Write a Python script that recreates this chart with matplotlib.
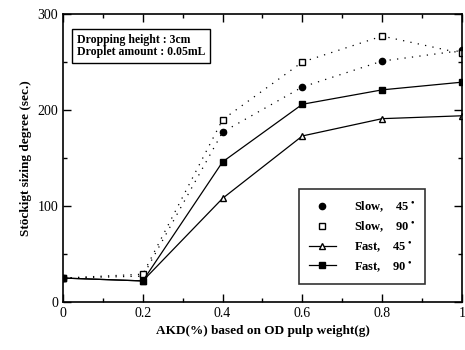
import numpy as np
import matplotlib.pyplot as plt
from matplotlib.lines import Line2D
from matplotlib.ticker import MultipleLocator

plt.rcParams['font.family'] = ['Liberation Serif', 'DejaVu Serif']

akd = [0, 0.2, 0.4, 0.6, 0.8, 1.0]
slow_45 = [25, 27, 177, 224, 251, 262]
slow_90 = [25, 29, 190, 250, 277, 259]
fast_45 = [25, 22, 108, 173, 191, 194]
fast_90 = [25, 22, 146, 206, 221, 229]

labels = ['Slow,    45$^\\bullet$', 'Slow,    90$^\\bullet$',
          'Fast,    45$^\\bullet$', 'Fast,    90$^\\bullet$']

fig = plt.figure(figsize=(4.65, 3.5), dpi=100)
ax = fig.add_axes([0.1355, 0.137, 0.858, 0.823])

# slow series: dotted lines
ax.plot(akd, slow_45, color='black', ls=(0, (1, 5)), lw=0.9)
ax.plot(akd, slow_90, color='black', ls=(0, (1, 5)), lw=0.9)
ax.plot(akd, slow_45, 'o', color='black', ms=4.5, ls='none')
ax.plot(akd, slow_90, 's', mfc='white', mec='black', ms=5, mew=1.0, ls='none')

# fast series: solid lines
ax.plot(akd, fast_45, '-^', color='black', mfc='white', mec='black', ms=4.5, lw=0.9)
ax.plot(akd, fast_90, '-s', color='black', ms=4.5, lw=0.9)

ax.set_xlim(0, 1)
ax.set_ylim(0, 300)
ax.set_xticks([0, 0.2, 0.4, 0.6, 0.8, 1.0])
ax.set_xticklabels(['0', '0.2', '0.4', '0.6', '0.8', '1'])
ax.xaxis.set_minor_locator(MultipleLocator(0.1))
ax.yaxis.set_major_locator(MultipleLocator(100))
ax.yaxis.set_minor_locator(MultipleLocator(50))
ax.tick_params(which='both', direction='in', top=True, right=True, labelsize=10)
ax.tick_params(which='major', length=6, width=1.0)
ax.tick_params(which='minor', length=3, width=1.0)
for s in ax.spines.values():
    s.set_linewidth(1.2)

ax.set_xlabel('AKD(%) based on OD pulp weight(g)', fontsize=9.5, fontweight='bold')
ax.set_ylabel('Stöckigt sizing degree (sec.)', fontsize=9.5, fontweight='bold')

ax.text(0.035, 0.93, 'Dropping height : 3cm\nDroplet amount : 0.05mL',
        transform=ax.transAxes, fontsize=8.5, fontweight='bold', va='top', ha='left',
        linespacing=1.0,
        bbox=dict(boxstyle='square,pad=0.4', fc='white', ec='black', lw=1.0))

handles = [
    Line2D([], [], marker='o', color='black', ms=4.5, ls='none'),
    Line2D([], [], marker='s', mfc='white', mec='black', ms=5, ls='none'),
    Line2D([], [], marker='^', color='black', mfc='white', ms=4.5, lw=0.9),
    Line2D([], [], marker='s', color='black', ms=4.5, lw=0.9),
]
leg = ax.legend(handles, labels, loc='lower right', bbox_to_anchor=(0.908, 0.064),
                prop={'weight': 'bold', 'size': 9}, frameon=True,
                fancybox=False, edgecolor='black', handlelength=2.2,
                labelspacing=0.4, borderpad=0.8, handletextpad=1.4,
                borderaxespad=0)
leg.get_frame().set_linewidth(1.2)

fig.savefig('out.png', dpi=100)
